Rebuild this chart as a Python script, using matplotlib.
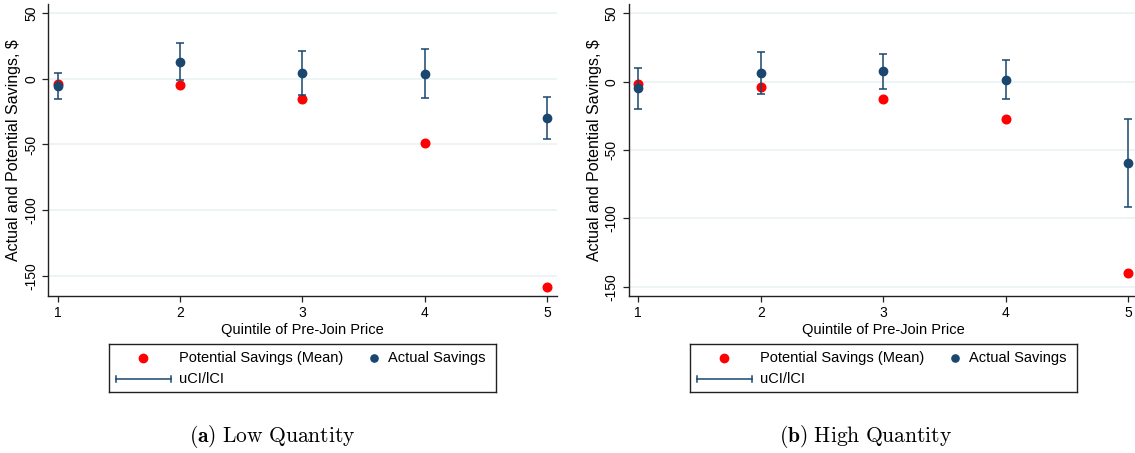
import matplotlib
matplotlib.use('Agg')
import matplotlib.pyplot as plt

plt.rcParams['font.family'] = ['Liberation Sans', 'DejaVu Sans']
plt.rcParams['mathtext.fontset'] = 'cm'

quintiles = [1, 2, 3, 4, 5]

# low quantity households
low_potential = [-3.6, -4.3, -15.5, -48.6, -158.8]
low_actual = [-5.6, 13.2, 4.6, 3.8, -29.8]
low_ucl = [4.6, 27.0, 21.4, 22.6, -13.5]
low_lcl = [-15.5, -0.5, -12.5, -14.8, -46.1]

# high quantity households
high_potential = [-1.5, -4.1, -12.7, -27.3, -140.2]
high_actual = [-4.9, 6.3, 7.6, 1.5, -59.3]
high_ucl = [10.2, 21.7, 20.5, 15.6, -27.1]
high_lcl = [-20.2, -9.0, -5.1, -12.4, -91.5]

yticks = [50, 0, -50, -100, -150]

NAVY = '#1a476f'
RED = '#ff0000'
GRID = '#eaf2f3'

W, H = 1135, 453


def px(x0, y0, w, h):
    return [x0 / W, 1 - (y0 + h) / H, w / W, h / H]


def draw_panel(ax, potential, actual, ucl, lcl, ylim):
    for y in yticks:
        ax.axhline(y, color=GRID, lw=1.2, zorder=0)
    ax.plot(quintiles, potential, 'o', color=RED, ms=6.2, zorder=3)
    yerr = [[a - l for a, l in zip(actual, lcl)], [u - a for a, u in zip(actual, ucl)]]
    ax.errorbar(quintiles, actual, yerr=yerr, fmt='none', ecolor=NAVY,
                elinewidth=1.1, capsize=3.2, capthick=1.1, zorder=4)
    ax.plot(quintiles, actual, 'o', color=NAVY, ms=6.0, zorder=5)

    ax.set_xlim(0.924, 5.077)
    ax.set_ylim(*ylim)
    ax.set_xticks(quintiles)
    ax.set_yticks(yticks)
    ax.set_yticklabels([str(t) for t in yticks], rotation=90, va='center')
    for s in ['top', 'right']:
        ax.spines[s].set_visible(False)
    for s in ['left', 'bottom']:
        ax.spines[s].set_linewidth(1.0)
        ax.spines[s].set_color('#222222')
    ax.tick_params(length=4.3, width=0.9, color='#222222', labelsize=10, pad=3)
    ax.set_xlabel('Quintile of Pre-Join Price', fontsize=10.5, labelpad=2)
    ax.set_ylabel('Actual and Potential Savings, $', fontsize=11.5, labelpad=2)


def draw_key(fig, x0):
    lax = fig.add_axes(px(x0, 344, 387, 48))
    lax.set_xlim(0, 387)
    lax.set_ylim(48, 0)
    lax.set_xticks([])
    lax.set_yticks([])
    for s in lax.spines.values():
        s.set_linewidth(1.0)
        s.set_color('#222222')
    lax.plot([34], [14], 'o', color=RED, ms=6.0)
    lax.text(70, 14, 'Potential Savings (Mean)', fontsize=10.5, va='center')
    lax.plot([265], [14], 'o', color=NAVY, ms=5.2)
    lax.text(279, 14, 'Actual Savings', fontsize=10.5, va='center')
    lax.plot([7, 62], [35, 35], color=NAVY, lw=1.1)
    lax.plot([7, 7], [32, 38], color=NAVY, lw=1.1)
    lax.plot([62, 62], [32, 38], color=NAVY, lw=1.1)
    lax.text(70, 35, 'uCI/lCI', fontsize=10.5, va='center')


fig = plt.figure(figsize=(W / 100, H / 100), dpi=100)

ax1 = fig.add_axes(px(48.3, 4, 508.4, 292))
draw_panel(ax1, low_potential, low_actual, low_ucl, low_lcl, (-165.5, 57.1))
ax2 = fig.add_axes(px(629, 4, 508.6, 292))
draw_panel(ax2, high_potential, high_actual, high_ucl, high_lcl, (-156.8, 56.8))

draw_key(fig, 109)
draw_key(fig, 690)

fig.text(272 / W, 1 - 436 / H, r'$\mathbf{(a)}\ \mathrm{Low\ Quantity}$',
         fontsize=15.5, ha='center', va='center')
fig.text(866 / W, 1 - 436 / H, r'$\mathbf{(b)}\ \mathrm{High\ Quantity}$',
         fontsize=15.5, ha='center', va='center')

fig.savefig('out.png', dpi=100)
